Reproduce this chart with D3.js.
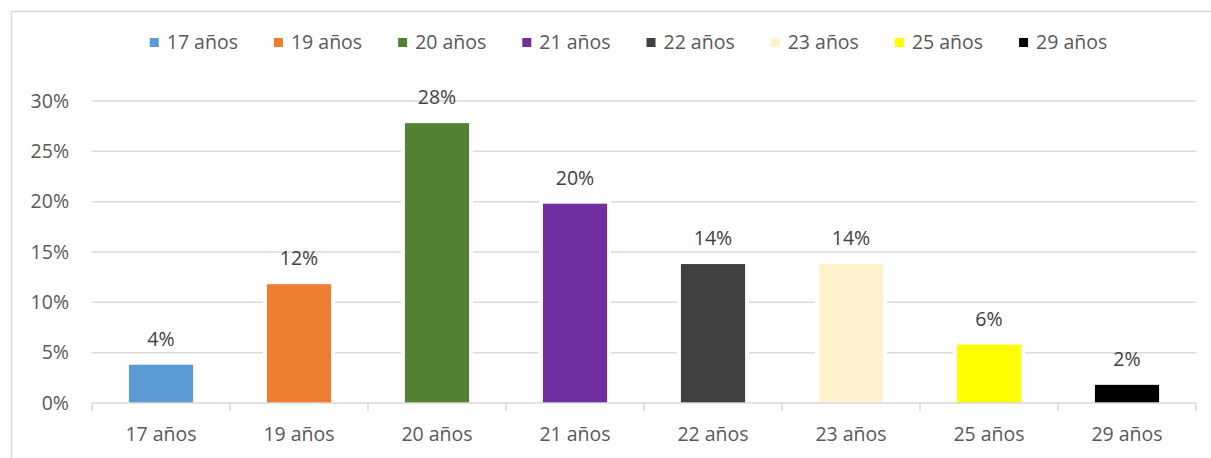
<!DOCTYPE html>
<meta charset="utf-8">
<style>
  body { margin: 0; background: #fff; }
  text { font-family: "Open Sans", sans-serif; fill: #595959; }
</style>
<body>
<script src="https://cdn.jsdelivr.net/npm/d3@7/dist/d3.min.js"></script>
<script>

    var width = 1211,
        height = 458;

    // datos
    var categories = ["17 años", "19 años", "20 años", "21 años", "22 años", "23 años", "25 años", "29 años"];
    var values = [4, 12, 28, 20, 14, 14, 6, 2];
    var colors = ["#5b9bd5", "#ed7d31", "#548235", "#7030a0", "#404040", "#fff2cc", "#ffff00", "#000000"];
    var yTicks = [0, 5, 10, 15, 20, 25, 30];

    var plotLeft = 92, plotRight = 1196, plotTop = 101, plotBottom = 403;
    var fontSize = "19.5px";

    var svg = d3.select("body").append("svg")
            .attr("width", width)
            .attr("height", height)
            .style("display", "block");

    // marco del grafico
    svg.append("rect")
            .attr("x", 11.5).attr("y", 11.5)
            .attr("width", 1300).attr("height", 460)
            .attr("fill", "none")
            .attr("stroke", "#d9d9d9")
            .attr("stroke-width", 1.5);

    var x = d3.scaleBand()
            .domain(categories)
            .range([plotLeft, plotRight])
            .paddingInner(0.535)
            .paddingOuter(0.2675);

    var band = d3.scaleBand().domain(categories).range([plotLeft, plotRight]);

    var y = d3.scaleLinear()
            .domain([0, 30])
            .range([plotBottom, plotTop]);

    // lineas de cuadricula
    svg.append("g").selectAll("line")
            .data(yTicks.filter(function(d) { return d > 0; }))
            .enter().append("line")
            .attr("x1", plotLeft).attr("x2", plotRight)
            .attr("y1", function(d) { return y(d); })
            .attr("y2", function(d) { return y(d); })
            .attr("stroke", "#d9d9d9")
            .attr("stroke-width", 1.5);

    // etiquetas eje y
    svg.append("g").selectAll("text")
            .data(yTicks)
            .enter().append("text")
            .attr("x", 69)
            .attr("y", function(d) { return y(d); })
            .attr("dy", "0.35em")
            .attr("text-anchor", "end")
            .style("font-size", fontSize)
            .text(function(d) { return d + "%"; });

    // barras
    var bars = svg.append("g").selectAll("g")
            .data(categories)
            .enter().append("g");

    bars.append("rect")
            .attr("x", function(d) { return x(d) - 4; })
            .attr("y", function(d, i) { return y(values[i]) - 2; })
            .attr("width", x.bandwidth() + 8)
            .attr("height", function(d, i) { return plotBottom - y(values[i]) + 2; })
            .attr("fill", "#fff");

    bars.append("rect")
            .attr("x", function(d) { return x(d); })
            .attr("y", function(d, i) { return y(values[i]) + 2; })
            .attr("width", x.bandwidth())
            .attr("height", function(d, i) { return plotBottom - y(values[i]) - 2; })
            .attr("fill", function(d, i) { return colors[i]; });

    bars.append("text")
            .attr("x", function(d) { return x(d) + x.bandwidth() / 2; })
            .attr("y", function(d, i) { return y(values[i]) - 17; })
            .attr("text-anchor", "middle")
            .style("font-size", fontSize)
            .style("fill", "#404040")
            .text(function(d, i) { return values[i] + "%"; });

    // eje x
    var xAxis = svg.append("g");
    xAxis.append("line")
            .attr("x1", plotLeft).attr("x2", plotRight)
            .attr("y1", plotBottom).attr("y2", plotBottom)
            .attr("stroke", "#d9d9d9")
            .attr("stroke-width", 1.5);

    var bounds = categories.map(function(d) { return band(d); }).concat([plotRight]);
    xAxis.selectAll(".tick")
            .data(bounds)
            .enter().append("line")
            .attr("x1", function(d) { return d; })
            .attr("x2", function(d) { return d; })
            .attr("y1", plotBottom).attr("y2", plotBottom + 8)
            .attr("stroke", "#d9d9d9")
            .attr("stroke-width", 1.5);

    xAxis.selectAll("text")
            .data(categories)
            .enter().append("text")
            .attr("x", function(d) { return band(d) + band.bandwidth() / 2; })
            .attr("y", 441)
            .attr("text-anchor", "middle")
            .style("font-size", fontSize)
            .text(function(d) { return d; });

    // leyenda
    var legend = svg.append("g");
    var items = legend.selectAll("g")
            .data(categories)
            .enter().append("g");

    items.append("rect")
            .attr("width", 9).attr("height", 9)
            .attr("y", 38)
            .attr("fill", function(d, i) { return colors[i]; });

    items.append("text")
            .attr("x", 17)
            .attr("y", 42.5)
            .attr("dy", "0.35em")
            .style("font-size", fontSize)
            .text(function(d) { return d; });

    var gap = 36, pos = 0, offsets = [];
    items.each(function() {
        offsets.push(pos);
        pos += this.getBBox().width + gap;
    });
    var total = pos - gap;
    var start = 628.5 - total / 2;
    items.attr("transform", function(d, i) { return "translate(" + (start + offsets[i]) + ",0)"; });

</script>
